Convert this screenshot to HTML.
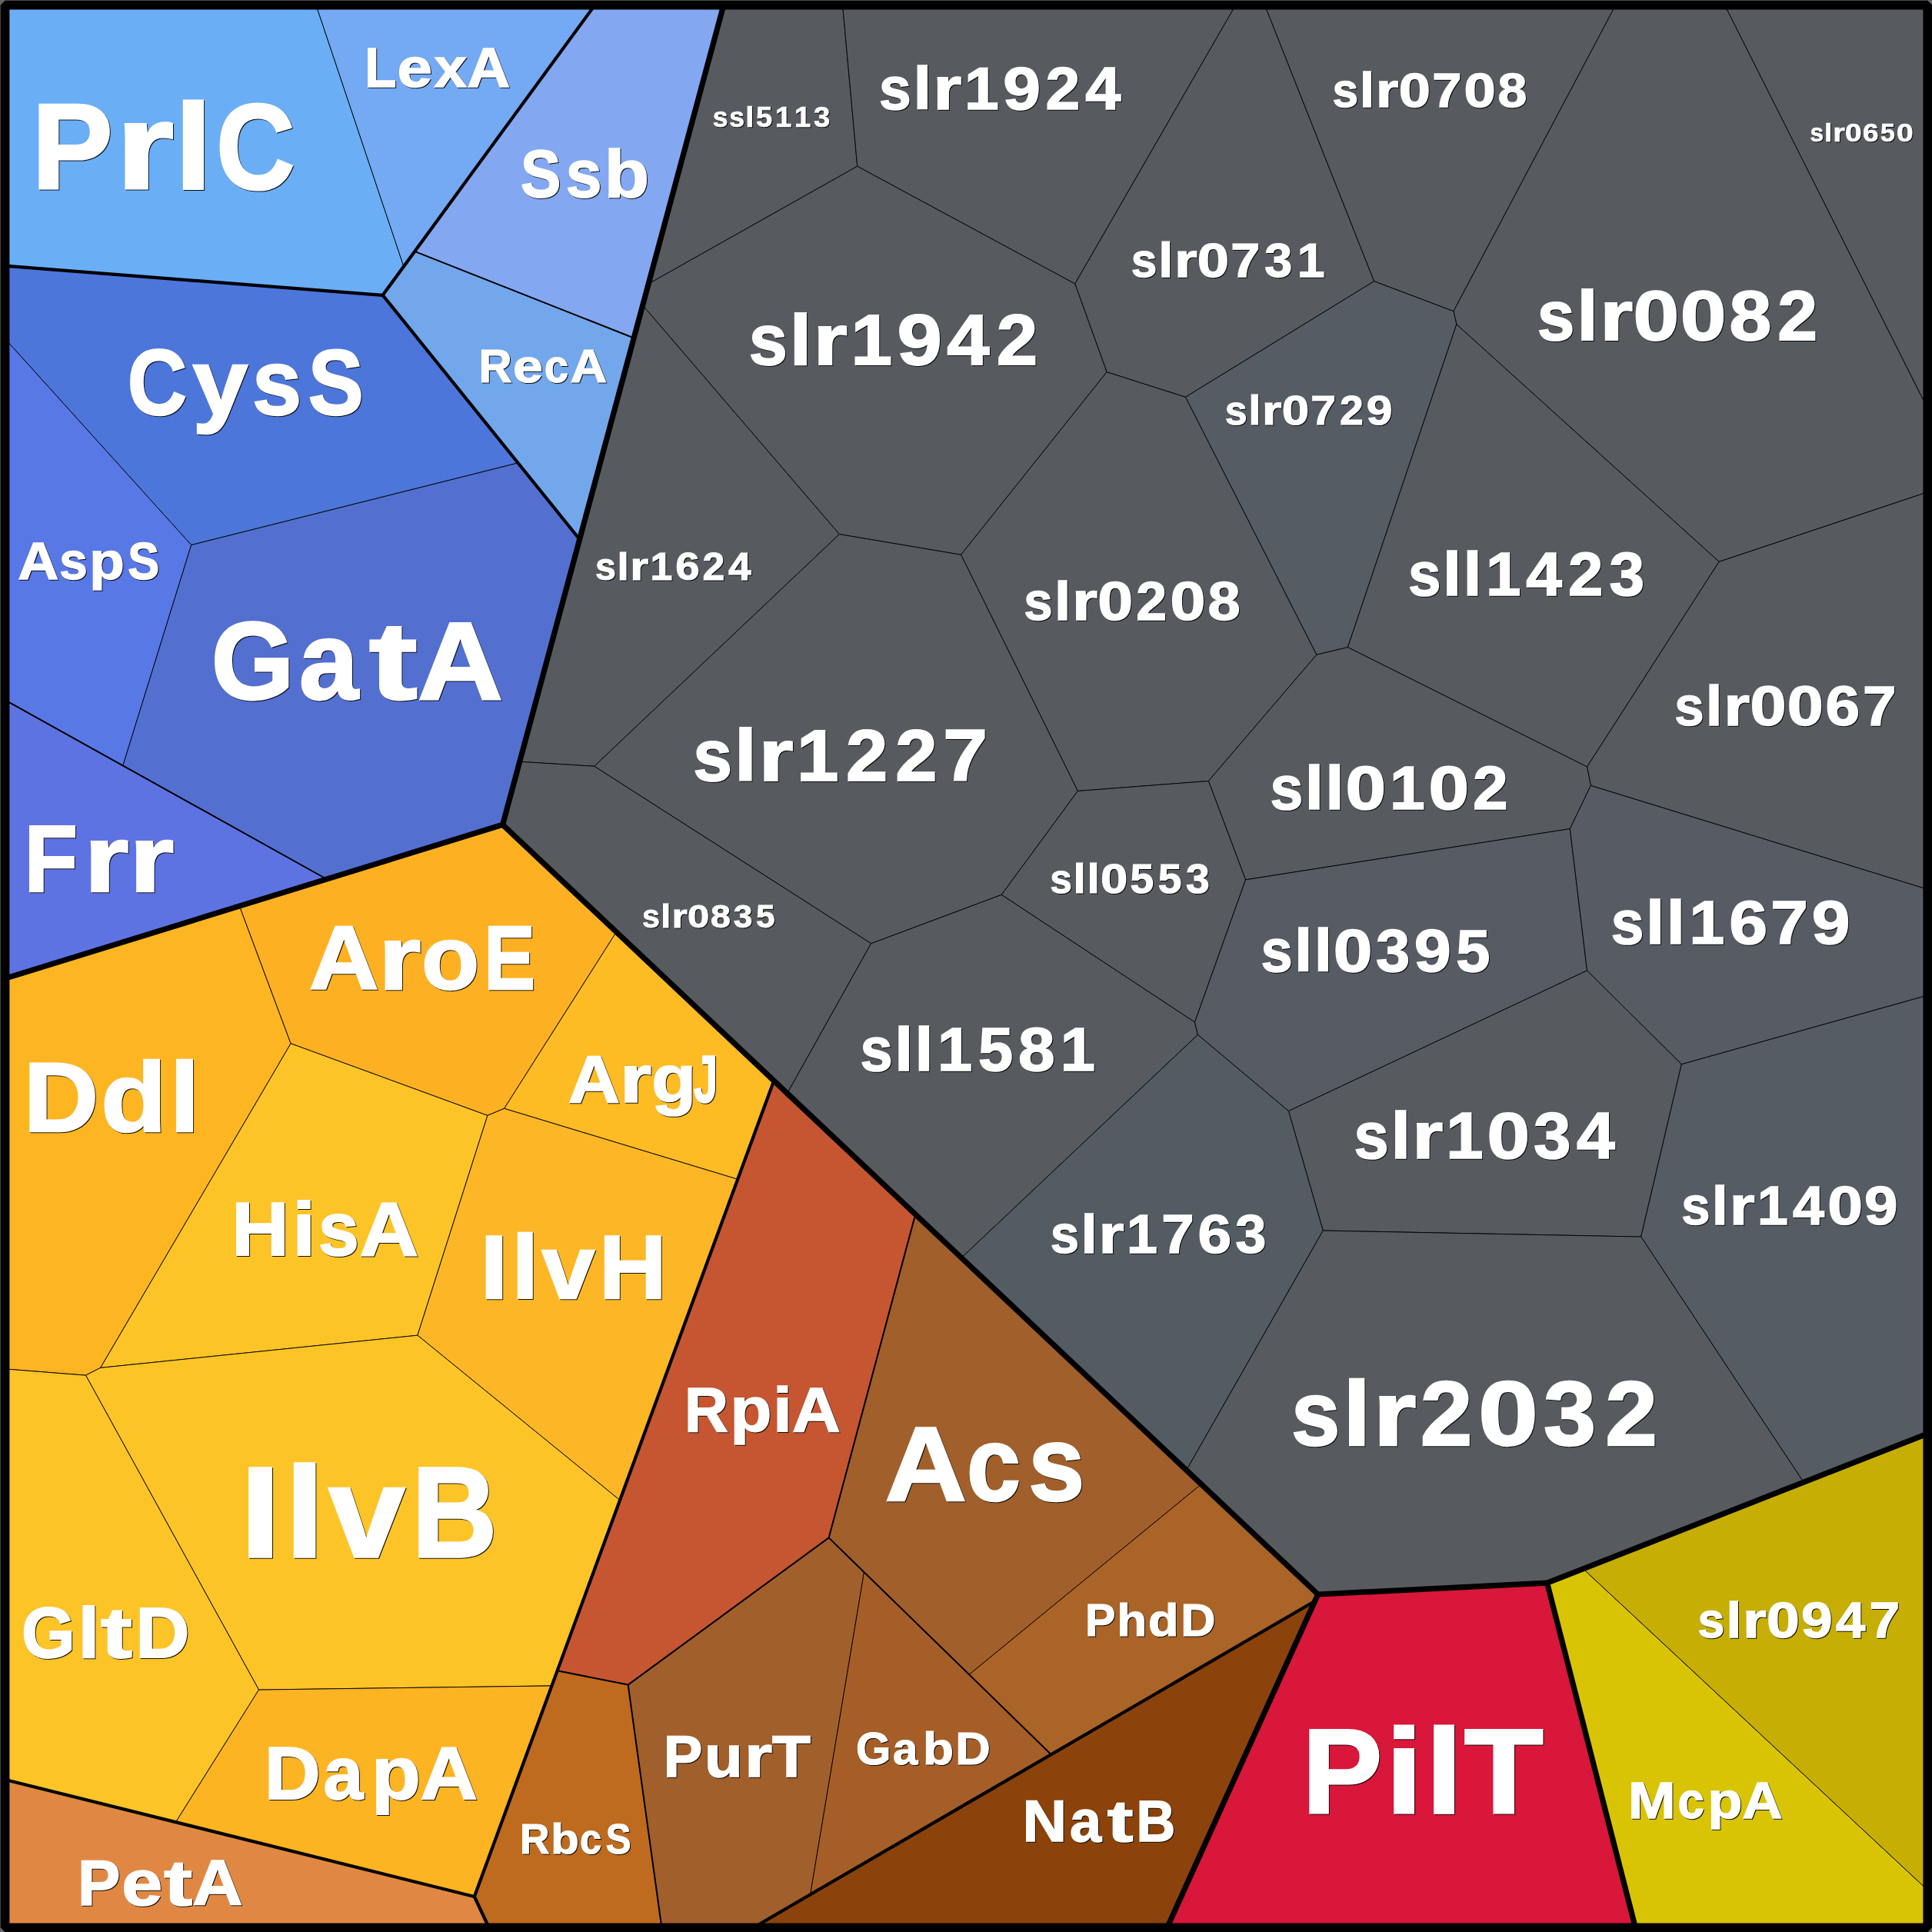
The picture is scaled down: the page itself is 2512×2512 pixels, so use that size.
<!DOCTYPE html>
<html><head><meta charset="utf-8"><title>Voronoi treemap</title>
<style>
html,body{margin:0;padding:0;background:#666;}
svg{display:block;}
text{font-family:"Liberation Sans",sans-serif;font-weight:bold;fill:#fff;stroke:#fff;stroke-linejoin:miter;stroke-miterlimit:2.5;}
.sh text{fill:#000;stroke:#000;opacity:.9;}
.c polygon{stroke:#000;stroke-width:0.9;stroke-linejoin:round;}
.l1,.l2,.l3{fill:none;stroke:#000;stroke-linecap:round;stroke-linejoin:round;}
.l1{stroke-width:7.2}.l2{stroke-width:4.2}.l3{stroke-width:2}
</style></head><body>
<svg width="2512" height="2512" viewBox="0 0 2512 2512">
<defs><filter id="noLcd" filterUnits="userSpaceOnUse" x="0" y="0" width="2512" height="2512" color-interpolation-filters="sRGB"><feOffset dx="0" dy="0"/></filter></defs>
<rect x="0" y="0" width="2512" height="2512" fill="#666"/>
<g class="c">
<polygon fill="#6aaef6" points="6.0,6.0 410.8,6.0 524.9,346.5 497.6,383.8 6.0,345.7"/>
<polygon fill="#74a9f3" points="410.8,6.0 773.9,6.0 524.9,346.5"/>
<polygon fill="#83a8f1" points="773.9,6.0 941.0,6.0 824.2,439.5 539.2,326.9"/>
<polygon fill="#72a7ec" points="539.2,326.9 824.2,439.5 753.6,701.2 497.6,383.8"/>
<polygon fill="#4d76db" points="6.0,345.7 497.6,383.8 673.6,601.9 248.7,708.6 6.0,439.9"/>
<polygon fill="#5878e6" points="6.0,439.9 248.7,708.6 159.8,995.5 6.0,909.8"/>
<polygon fill="#5370d1" points="248.7,708.6 673.6,601.9 753.6,701.2 653.6,1072.3 424.6,1143.0 159.8,995.5"/>
<polygon fill="#5e73e2" points="6.0,909.8 424.6,1143.0 6.0,1272.4"/>
<polygon fill="#fdb522" points="6.0,1272.4 311.4,1178.0 378.1,1356.8 130.7,1778.4 111.5,1788.2 6.0,1779.9"/>
<polygon fill="#fdb122" points="311.4,1178.0 653.6,1072.3 801.4,1211.8 655.6,1441.3 633.9,1450.4 378.1,1356.8"/>
<polygon fill="#fdbb24" points="801.4,1211.8 1006.2,1405.2 959.1,1533.3 655.6,1441.3"/>
<polygon fill="#fdc428" points="378.1,1356.8 633.9,1450.4 542.9,1736.2 130.7,1778.4"/>
<polygon fill="#fdb726" points="633.9,1450.4 655.6,1441.3 959.1,1533.3 806.0,1950.6 542.9,1736.2"/>
<polygon fill="#fdc428" points="130.7,1778.4 542.9,1736.2 806.0,1950.6 717.4,2191.9 336.5,2197.1 111.5,1788.2"/>
<polygon fill="#fdc428" points="6.0,1779.9 111.5,1788.2 336.5,2197.1 228.5,2369.2 6.0,2313.7"/>
<polygon fill="#fdb422" points="336.5,2197.1 717.4,2191.9 616.8,2466.0 228.5,2369.2"/>
<polygon fill="#e08843" points="6.0,2313.7 616.8,2466.0 635.6,2506.0 6.0,2506.0"/>
<polygon fill="#c55631" points="1006.2,1405.2 1190.2,1578.9 1077.6,1999.4 816.6,2190.6 724.6,2172.3"/>
<polygon fill="#a15f2b" points="1190.2,1578.9 1561.9,1929.8 1260.1,2177.3 1077.6,1999.4"/>
<polygon fill="#aa6427" points="1561.9,1929.8 1713.6,2073.0 1709.6,2081.8 1366.7,2281.2 1260.1,2177.3"/>
<polygon fill="#a15f2b" points="1077.6,1999.4 1123.5,2044.1 1053.6,2463.3 980.2,2506.0 860.3,2506.0 816.6,2190.6"/>
<polygon fill="#a55e27" points="1123.5,2044.1 1366.7,2281.2 1053.6,2463.3"/>
<polygon fill="#be6b1f" points="724.6,2172.3 816.6,2190.6 860.3,2506.0 635.6,2506.0 616.8,2466.0"/>
<polygon fill="#8b430b" points="980.2,2506.0 1709.6,2081.8 1517.7,2506.0"/>
<polygon fill="#d8173a" points="1713.6,2073.0 2011.6,2058.2 2126.3,2506.0 1517.7,2506.0"/>
<polygon fill="#d8c404" points="2011.6,2058.2 2058.5,2039.8 2506.0,2457.2 2506.0,2506.0 2126.3,2506.0"/>
<polygon fill="#c6ae05" points="2058.5,2039.8 2506.0,1864.1 2506.0,2457.2"/>
<polygon fill="#575b60" points="941.0,6.0 1095.5,6.0 1114.7,216.2 843.1,369.1"/>
<polygon fill="#575b60" points="1095.5,6.0 1606.9,6.0 1397.7,369.0 1114.7,216.2"/>
<polygon fill="#575b60" points="1606.9,6.0 1644.3,6.0 1786.6,365.7 1541.4,516.3 1439.0,483.7 1397.7,369.0"/>
<polygon fill="#575b60" points="1644.3,6.0 2101.0,6.0 1889.9,404.7 1786.6,365.7"/>
<polygon fill="#575b60" points="2101.0,6.0 2242.3,6.0 2506.0,530.5 2506.0,639.9 2235.1,730.4 1893.8,421.7 1889.9,404.7"/>
<polygon fill="#575b60" points="2242.3,6.0 2506.0,6.0 2506.0,530.5"/>
<polygon fill="#575b60" points="843.1,369.1 1114.7,216.2 1397.7,369.0 1439.0,483.7 1249.5,721.3 1091.3,694.6 835.6,396.9"/>
<polygon fill="#575b60" points="835.6,396.9 1091.3,694.6 772.7,996.3 675.7,990.3"/>
<polygon fill="#555c64" points="1541.4,516.3 1786.6,365.7 1889.9,404.7 1893.8,421.7 1752.4,841.6 1711.8,851.3"/>
<polygon fill="#575b60" points="1439.0,483.7 1541.4,516.3 1711.8,851.3 1571.3,1015.5 1401.3,1028.5 1249.5,721.3"/>
<polygon fill="#575b60" points="1893.8,421.7 2235.1,730.4 2063.5,997.0 1752.4,841.6"/>
<polygon fill="#575b60" points="2235.1,730.4 2506.0,639.9 2506.0,1156.3 2068.3,1021.4 2063.5,997.0"/>
<polygon fill="#575b60" points="1091.3,694.6 1249.5,721.3 1401.3,1028.5 1302.2,1163.4 1132.6,1226.8 772.7,996.3"/>
<polygon fill="#575b60" points="1711.8,851.3 1752.4,841.6 2063.5,997.0 2068.3,1021.4 2041.3,1077.6 1619.5,1143.9 1571.3,1015.5"/>
<polygon fill="#575b60" points="1401.3,1028.5 1571.3,1015.5 1619.5,1143.9 1553.5,1329.1 1302.2,1163.4"/>
<polygon fill="#575b60" points="675.7,990.3 772.7,996.3 1132.6,1226.8 1023.6,1421.6 653.6,1072.3"/>
<polygon fill="#575b60" points="1132.6,1226.8 1302.2,1163.4 1553.5,1329.1 1557.4,1345.4 1250.1,1635.4 1023.6,1421.6"/>
<polygon fill="#575b63" points="1619.5,1143.9 2041.3,1077.6 2063.5,1261.9 1675.4,1444.6 1557.4,1345.4 1553.5,1329.1"/>
<polygon fill="#575b63" points="2041.3,1077.6 2068.3,1021.4 2506.0,1156.3 2506.0,1294.2 2186.3,1383.8 2063.5,1261.9"/>
<polygon fill="#575b60" points="1675.4,1444.6 2063.5,1261.9 2186.3,1383.8 2133.7,1608.1 1720.2,1600.0"/>
<polygon fill="#545c63" points="1557.4,1345.4 1675.4,1444.6 1720.2,1600.0 1542.6,1911.6 1250.1,1635.4"/>
<polygon fill="#565c63" points="2186.3,1383.8 2506.0,1294.2 2506.0,1864.1 2345.1,1927.3 2133.7,1608.1"/>
<polygon fill="#575b60" points="1720.2,1600.0 2133.7,1608.1 2345.1,1927.3 2011.6,2058.2 1713.6,2073.0 1542.6,1911.6"/>
</g>
<g class="l3">
<polyline points="539.2,326.9 824.2,439.5"/>
<polyline points="6.0,909.8 424.6,1143.0"/>
<polyline points="1190.2,1578.9 1077.6,1999.4 816.6,2190.6 724.6,2172.3"/>
<polyline points="816.6,2190.6 860.3,2506.0"/>
<polyline points="1077.6,1999.4 1366.7,2281.2"/>
</g>
<g class="l2">
<polyline points="6.0,345.7 497.6,383.8 773.9,6.0"/>
<polyline points="497.6,383.8 753.6,701.2"/>
<polyline points="1006.2,1405.2 616.8,2466.0 6.0,2313.7"/>
<polyline points="616.8,2466.0 635.6,2506.0"/>
<polyline points="980.2,2506.0 1709.6,2081.8"/>
</g>
<g class="l1">
<polyline points="941.0,6.0 653.6,1072.3 6.0,1272.4"/>
<polyline points="653.6,1072.3 1713.6,2073.0 1517.7,2506.0"/>
<polyline points="1713.6,2073.0 2011.6,2058.2 2506.0,1864.1"/>
<polyline points="2011.6,2058.2 2126.3,2506.0"/>
</g>
<rect x="6.55" y="6.55" width="2499.7" height="2499.7" fill="none" stroke="#000" stroke-width="11.7" stroke-linejoin="bevel"/>
<g class="sh" filter="url(#noLcd)">
<text y="245.8" font-size="158.6" stroke-width="3.17"><tspan x="42.4" textLength="105.2" lengthAdjust="spacingAndGlyphs">P</tspan><tspan x="151.9" textLength="75.0" lengthAdjust="spacingAndGlyphs">r</tspan><tspan x="228.5" textLength="48.1" lengthAdjust="spacingAndGlyphs">l</tspan><tspan x="282.3" textLength="102.0" lengthAdjust="spacingAndGlyphs">C</tspan></text>
<text y="114.1" font-size="71.8" stroke-width="1.44"><tspan x="475.2" textLength="41.3" lengthAdjust="spacingAndGlyphs">L</tspan><tspan x="517.6" textLength="45.5" lengthAdjust="spacingAndGlyphs">e</tspan><tspan x="565.6" textLength="42.5" lengthAdjust="spacingAndGlyphs">x</tspan><tspan x="608.5" textLength="55.8" lengthAdjust="spacingAndGlyphs">A</tspan></text>
<text y="256.9" font-size="87.4" stroke-width="1.75"><tspan x="678.0" textLength="52.4" lengthAdjust="spacingAndGlyphs">S</tspan><tspan x="736.8" textLength="46.8" lengthAdjust="spacingAndGlyphs">s</tspan><tspan x="786.7" textLength="58.3" lengthAdjust="spacingAndGlyphs">b</tspan></text>
<text y="497.8" font-size="61.4" stroke-width="1.23"><tspan x="623.6" textLength="43.2" lengthAdjust="spacingAndGlyphs">R</tspan><tspan x="667.9" textLength="38.9" lengthAdjust="spacingAndGlyphs">e</tspan><tspan x="708.8" textLength="31.4" lengthAdjust="spacingAndGlyphs">c</tspan><tspan x="742.4" textLength="47.7" lengthAdjust="spacingAndGlyphs">A</tspan></text>
<text y="539.5" font-size="120.1" stroke-width="2.40"><tspan x="166.8" textLength="77.3" lengthAdjust="spacingAndGlyphs">C</tspan><tspan x="251.4" textLength="71.8" lengthAdjust="spacingAndGlyphs">y</tspan><tspan x="329.0" textLength="64.3" lengthAdjust="spacingAndGlyphs">s</tspan><tspan x="401.8" textLength="72.0" lengthAdjust="spacingAndGlyphs">S</tspan></text>
<text y="753.5" font-size="68.4" stroke-width="1.37"><tspan x="24.3" textLength="53.2" lengthAdjust="spacingAndGlyphs">A</tspan><tspan x="78.3" textLength="36.6" lengthAdjust="spacingAndGlyphs">s</tspan><tspan x="117.3" textLength="45.6" lengthAdjust="spacingAndGlyphs">p</tspan><tspan x="167.2" textLength="41.0" lengthAdjust="spacingAndGlyphs">S</tspan></text>
<text y="910.0" font-size="142.3" stroke-width="2.85"><tspan x="275.8" textLength="107.8" lengthAdjust="spacingAndGlyphs">G</tspan><tspan x="390.0" textLength="76.8" lengthAdjust="spacingAndGlyphs">a</tspan><tspan x="480.9" textLength="62.8" lengthAdjust="spacingAndGlyphs">t</tspan><tspan x="544.3" textLength="110.6" lengthAdjust="spacingAndGlyphs">A</tspan></text>
<text y="1159.9" font-size="122.3" stroke-width="2.45"><tspan x="32.5" textLength="69.6" lengthAdjust="spacingAndGlyphs">F</tspan><tspan x="110.6" textLength="57.9" lengthAdjust="spacingAndGlyphs">r</tspan><tspan x="169.2" textLength="57.9" lengthAdjust="spacingAndGlyphs">r</tspan></text>
<text y="165.7" font-size="37.1" stroke-width="0.74"><tspan x="927.8" textLength="19.8" lengthAdjust="spacingAndGlyphs">s</tspan><tspan x="949.2" textLength="19.8" lengthAdjust="spacingAndGlyphs">s</tspan><tspan x="970.2" textLength="11.2" lengthAdjust="spacingAndGlyphs">l</tspan><tspan x="984.0" textLength="21.2" lengthAdjust="spacingAndGlyphs">5</tspan><tspan x="1009.1" textLength="21.2" lengthAdjust="spacingAndGlyphs">1</tspan><tspan x="1034.1" textLength="21.2" lengthAdjust="spacingAndGlyphs">1</tspan><tspan x="1059.0" textLength="21.3" lengthAdjust="spacingAndGlyphs">3</tspan></text>
<text y="143.2" font-size="78.2" stroke-width="1.56"><tspan x="1144.1" textLength="41.8" lengthAdjust="spacingAndGlyphs">s</tspan><tspan x="1188.5" textLength="23.7" lengthAdjust="spacingAndGlyphs">l</tspan><tspan x="1214.2" textLength="37.0" lengthAdjust="spacingAndGlyphs">r</tspan><tspan x="1255.0" textLength="44.8" lengthAdjust="spacingAndGlyphs">1</tspan><tspan x="1305.3" textLength="48.8" lengthAdjust="spacingAndGlyphs">9</tspan><tspan x="1360.4" textLength="44.7" lengthAdjust="spacingAndGlyphs">2</tspan><tspan x="1412.2" textLength="46.1" lengthAdjust="spacingAndGlyphs">4</tspan></text>
<text y="140.2" font-size="62.8" stroke-width="1.26"><tspan x="1733.5" textLength="33.6" lengthAdjust="spacingAndGlyphs">s</tspan><tspan x="1769.1" textLength="19.0" lengthAdjust="spacingAndGlyphs">l</tspan><tspan x="1789.7" textLength="29.7" lengthAdjust="spacingAndGlyphs">r</tspan><tspan x="1819.7" textLength="41.3" lengthAdjust="spacingAndGlyphs">0</tspan><tspan x="1863.3" textLength="38.2" lengthAdjust="spacingAndGlyphs">7</tspan><tspan x="1904.5" textLength="41.3" lengthAdjust="spacingAndGlyphs">0</tspan><tspan x="1948.5" textLength="37.9" lengthAdjust="spacingAndGlyphs">8</tspan></text>
<text y="185.4" font-size="33.0" stroke-width="0.66"><tspan x="2354.6" textLength="17.7" lengthAdjust="spacingAndGlyphs">s</tspan><tspan x="2373.3" textLength="10.0" lengthAdjust="spacingAndGlyphs">l</tspan><tspan x="2384.2" textLength="15.6" lengthAdjust="spacingAndGlyphs">r</tspan><tspan x="2400.0" textLength="21.7" lengthAdjust="spacingAndGlyphs">0</tspan><tspan x="2422.9" textLength="20.6" lengthAdjust="spacingAndGlyphs">6</tspan><tspan x="2446.1" textLength="18.9" lengthAdjust="spacingAndGlyphs">5</tspan><tspan x="2466.9" textLength="21.7" lengthAdjust="spacingAndGlyphs">0</tspan></text>
<text y="360.6" font-size="62.7" stroke-width="1.25"><tspan x="1471.7" textLength="33.6" lengthAdjust="spacingAndGlyphs">s</tspan><tspan x="1507.3" textLength="19.0" lengthAdjust="spacingAndGlyphs">l</tspan><tspan x="1527.9" textLength="29.7" lengthAdjust="spacingAndGlyphs">r</tspan><tspan x="1557.8" textLength="41.3" lengthAdjust="spacingAndGlyphs">0</tspan><tspan x="1601.3" textLength="38.2" lengthAdjust="spacingAndGlyphs">7</tspan><tspan x="1645.2" textLength="36.0" lengthAdjust="spacingAndGlyphs">3</tspan><tspan x="1687.7" textLength="35.9" lengthAdjust="spacingAndGlyphs">1</tspan></text>
<text y="442.9" font-size="90.8" stroke-width="1.82"><tspan x="1999.8" textLength="48.6" lengthAdjust="spacingAndGlyphs">s</tspan><tspan x="2051.3" textLength="27.5" lengthAdjust="spacingAndGlyphs">l</tspan><tspan x="2081.2" textLength="42.9" lengthAdjust="spacingAndGlyphs">r</tspan><tspan x="2124.5" textLength="59.7" lengthAdjust="spacingAndGlyphs">0</tspan><tspan x="2185.8" textLength="59.7" lengthAdjust="spacingAndGlyphs">0</tspan><tspan x="2249.4" textLength="54.8" lengthAdjust="spacingAndGlyphs">8</tspan><tspan x="2312.3" textLength="51.9" lengthAdjust="spacingAndGlyphs">2</tspan></text>
<text y="474.7" font-size="93.6" stroke-width="1.87"><tspan x="974.7" textLength="50.1" lengthAdjust="spacingAndGlyphs">s</tspan><tspan x="1027.7" textLength="28.4" lengthAdjust="spacingAndGlyphs">l</tspan><tspan x="1058.5" textLength="44.3" lengthAdjust="spacingAndGlyphs">r</tspan><tspan x="1107.4" textLength="53.6" lengthAdjust="spacingAndGlyphs">1</tspan><tspan x="1167.5" textLength="58.4" lengthAdjust="spacingAndGlyphs">9</tspan><tspan x="1232.3" textLength="55.2" lengthAdjust="spacingAndGlyphs">4</tspan><tspan x="1296.8" textLength="53.5" lengthAdjust="spacingAndGlyphs">2</tspan></text>
<text y="553.2" font-size="53.9" stroke-width="1.08"><tspan x="1593.7" textLength="28.9" lengthAdjust="spacingAndGlyphs">s</tspan><tspan x="1624.3" textLength="16.4" lengthAdjust="spacingAndGlyphs">l</tspan><tspan x="1642.0" textLength="25.5" lengthAdjust="spacingAndGlyphs">r</tspan><tspan x="1667.8" textLength="35.5" lengthAdjust="spacingAndGlyphs">0</tspan><tspan x="1705.2" textLength="32.8" lengthAdjust="spacingAndGlyphs">7</tspan><tspan x="1742.9" textLength="30.8" lengthAdjust="spacingAndGlyphs">2</tspan><tspan x="1777.8" textLength="33.7" lengthAdjust="spacingAndGlyphs">9</tspan></text>
<text y="755.4" font-size="50.4" stroke-width="1.01"><tspan x="775.0" textLength="27.0" lengthAdjust="spacingAndGlyphs">s</tspan><tspan x="803.6" textLength="15.3" lengthAdjust="spacingAndGlyphs">l</tspan><tspan x="820.2" textLength="23.9" lengthAdjust="spacingAndGlyphs">r</tspan><tspan x="846.5" textLength="28.9" lengthAdjust="spacingAndGlyphs">1</tspan><tspan x="879.3" textLength="31.5" lengthAdjust="spacingAndGlyphs">6</tspan><tspan x="914.5" textLength="28.8" lengthAdjust="spacingAndGlyphs">2</tspan><tspan x="947.9" textLength="29.7" lengthAdjust="spacingAndGlyphs">4</tspan></text>
<text y="806.5" font-size="69.8" stroke-width="1.40"><tspan x="1332.3" textLength="37.4" lengthAdjust="spacingAndGlyphs">s</tspan><tspan x="1371.9" textLength="21.2" lengthAdjust="spacingAndGlyphs">l</tspan><tspan x="1394.9" textLength="33.0" lengthAdjust="spacingAndGlyphs">r</tspan><tspan x="1428.2" textLength="45.9" lengthAdjust="spacingAndGlyphs">0</tspan><tspan x="1478.3" textLength="39.9" lengthAdjust="spacingAndGlyphs">2</tspan><tspan x="1522.5" textLength="45.9" lengthAdjust="spacingAndGlyphs">0</tspan><tspan x="1571.5" textLength="42.2" lengthAdjust="spacingAndGlyphs">8</tspan></text>
<text y="774.5" font-size="79.3" stroke-width="1.59"><tspan x="1832.1" textLength="42.5" lengthAdjust="spacingAndGlyphs">s</tspan><tspan x="1877.1" textLength="24.1" lengthAdjust="spacingAndGlyphs">l</tspan><tspan x="1903.5" textLength="24.1" lengthAdjust="spacingAndGlyphs">l</tspan><tspan x="1933.0" textLength="45.5" lengthAdjust="spacingAndGlyphs">1</tspan><tspan x="1985.3" textLength="46.7" lengthAdjust="spacingAndGlyphs">4</tspan><tspan x="2040.0" textLength="45.3" lengthAdjust="spacingAndGlyphs">2</tspan><tspan x="2093.6" textLength="45.6" lengthAdjust="spacingAndGlyphs">3</tspan></text>
<text y="944.3" font-size="71.6" stroke-width="1.43"><tspan x="2178.2" textLength="38.3" lengthAdjust="spacingAndGlyphs">s</tspan><tspan x="2218.8" textLength="21.7" lengthAdjust="spacingAndGlyphs">l</tspan><tspan x="2242.3" textLength="33.9" lengthAdjust="spacingAndGlyphs">r</tspan><tspan x="2276.5" textLength="47.1" lengthAdjust="spacingAndGlyphs">0</tspan><tspan x="2324.8" textLength="47.1" lengthAdjust="spacingAndGlyphs">0</tspan><tspan x="2374.6" textLength="44.7" lengthAdjust="spacingAndGlyphs">6</tspan><tspan x="2422.9" textLength="43.6" lengthAdjust="spacingAndGlyphs">7</tspan></text>
<text y="1015.7" font-size="95.0" stroke-width="1.90"><tspan x="902.2" textLength="50.9" lengthAdjust="spacingAndGlyphs">s</tspan><tspan x="956.1" textLength="28.8" lengthAdjust="spacingAndGlyphs">l</tspan><tspan x="987.4" textLength="45.0" lengthAdjust="spacingAndGlyphs">r</tspan><tspan x="1037.0" textLength="54.5" lengthAdjust="spacingAndGlyphs">1</tspan><tspan x="1100.9" textLength="54.3" lengthAdjust="spacingAndGlyphs">2</tspan><tspan x="1165.2" textLength="54.3" lengthAdjust="spacingAndGlyphs">2</tspan><tspan x="1227.2" textLength="57.8" lengthAdjust="spacingAndGlyphs">7</tspan></text>
<text y="1052.5" font-size="80.0" stroke-width="1.60"><tspan x="1652.4" textLength="42.8" lengthAdjust="spacingAndGlyphs">s</tspan><tspan x="1697.7" textLength="24.2" lengthAdjust="spacingAndGlyphs">l</tspan><tspan x="1724.3" textLength="24.2" lengthAdjust="spacingAndGlyphs">l</tspan><tspan x="1750.5" textLength="52.6" lengthAdjust="spacingAndGlyphs">0</tspan><tspan x="1808.1" textLength="45.8" lengthAdjust="spacingAndGlyphs">1</tspan><tspan x="1858.6" textLength="52.6" lengthAdjust="spacingAndGlyphs">0</tspan><tspan x="1915.9" textLength="45.7" lengthAdjust="spacingAndGlyphs">2</tspan></text>
<text y="1161.7" font-size="53.6" stroke-width="1.07"><tspan x="1366.2" textLength="28.7" lengthAdjust="spacingAndGlyphs">s</tspan><tspan x="1396.6" textLength="16.3" lengthAdjust="spacingAndGlyphs">l</tspan><tspan x="1414.5" textLength="16.3" lengthAdjust="spacingAndGlyphs">l</tspan><tspan x="1432.0" textLength="35.3" lengthAdjust="spacingAndGlyphs">0</tspan><tspan x="1470.6" textLength="30.7" lengthAdjust="spacingAndGlyphs">5</tspan><tspan x="1506.8" textLength="30.7" lengthAdjust="spacingAndGlyphs">5</tspan><tspan x="1543.0" textLength="30.8" lengthAdjust="spacingAndGlyphs">3</tspan></text>
<text y="1206.6" font-size="42.9" stroke-width="0.86"><tspan x="836.0" textLength="23.0" lengthAdjust="spacingAndGlyphs">s</tspan><tspan x="860.3" textLength="13.0" lengthAdjust="spacingAndGlyphs">l</tspan><tspan x="874.5" textLength="20.3" lengthAdjust="spacingAndGlyphs">r</tspan><tspan x="894.9" textLength="28.3" lengthAdjust="spacingAndGlyphs">0</tspan><tspan x="925.0" textLength="25.9" lengthAdjust="spacingAndGlyphs">8</tspan><tspan x="954.8" textLength="24.7" lengthAdjust="spacingAndGlyphs">3</tspan><tspan x="983.9" textLength="24.6" lengthAdjust="spacingAndGlyphs">5</tspan></text>
<text y="1264.0" font-size="77.0" stroke-width="1.54"><tspan x="1640.4" textLength="41.2" lengthAdjust="spacingAndGlyphs">s</tspan><tspan x="1684.0" textLength="23.4" lengthAdjust="spacingAndGlyphs">l</tspan><tspan x="1709.7" textLength="23.4" lengthAdjust="spacingAndGlyphs">l</tspan><tspan x="1734.8" textLength="50.7" lengthAdjust="spacingAndGlyphs">0</tspan><tspan x="1790.1" textLength="44.2" lengthAdjust="spacingAndGlyphs">3</tspan><tspan x="1839.8" textLength="48.0" lengthAdjust="spacingAndGlyphs">9</tspan><tspan x="1894.3" textLength="44.2" lengthAdjust="spacingAndGlyphs">5</tspan></text>
<text y="1227.7" font-size="79.9" stroke-width="1.60"><tspan x="2095.8" textLength="42.7" lengthAdjust="spacingAndGlyphs">s</tspan><tspan x="2141.1" textLength="24.2" lengthAdjust="spacingAndGlyphs">l</tspan><tspan x="2167.7" textLength="24.2" lengthAdjust="spacingAndGlyphs">l</tspan><tspan x="2197.4" textLength="45.8" lengthAdjust="spacingAndGlyphs">1</tspan><tspan x="2249.3" textLength="49.9" lengthAdjust="spacingAndGlyphs">6</tspan><tspan x="2303.2" textLength="48.6" lengthAdjust="spacingAndGlyphs">7</tspan><tspan x="2356.7" textLength="49.8" lengthAdjust="spacingAndGlyphs">9</tspan></text>
<text y="1392.7" font-size="78.8" stroke-width="1.58"><tspan x="1119.6" textLength="42.2" lengthAdjust="spacingAndGlyphs">s</tspan><tspan x="1164.3" textLength="23.9" lengthAdjust="spacingAndGlyphs">l</tspan><tspan x="1190.6" textLength="23.9" lengthAdjust="spacingAndGlyphs">l</tspan><tspan x="1219.9" textLength="45.2" lengthAdjust="spacingAndGlyphs">1</tspan><tspan x="1273.1" textLength="45.2" lengthAdjust="spacingAndGlyphs">5</tspan><tspan x="1324.9" textLength="47.6" lengthAdjust="spacingAndGlyphs">8</tspan><tspan x="1379.7" textLength="45.2" lengthAdjust="spacingAndGlyphs">1</tspan></text>
<text y="1506.5" font-size="84.5" stroke-width="1.69"><tspan x="1761.5" textLength="45.2" lengthAdjust="spacingAndGlyphs">s</tspan><tspan x="1809.4" textLength="25.6" lengthAdjust="spacingAndGlyphs">l</tspan><tspan x="1837.2" textLength="40.0" lengthAdjust="spacingAndGlyphs">r</tspan><tspan x="1881.3" textLength="48.4" lengthAdjust="spacingAndGlyphs">1</tspan><tspan x="1934.5" textLength="55.6" lengthAdjust="spacingAndGlyphs">0</tspan><tspan x="1995.1" textLength="48.5" lengthAdjust="spacingAndGlyphs">3</tspan><tspan x="2051.1" textLength="49.8" lengthAdjust="spacingAndGlyphs">4</tspan></text>
<text y="1630.2" font-size="69.9" stroke-width="1.40"><tspan x="1366.8" textLength="37.4" lengthAdjust="spacingAndGlyphs">s</tspan><tspan x="1406.4" textLength="21.2" lengthAdjust="spacingAndGlyphs">l</tspan><tspan x="1429.4" textLength="33.0" lengthAdjust="spacingAndGlyphs">r</tspan><tspan x="1465.9" textLength="40.0" lengthAdjust="spacingAndGlyphs">1</tspan><tspan x="1511.2" textLength="42.5" lengthAdjust="spacingAndGlyphs">7</tspan><tspan x="1558.5" textLength="43.7" lengthAdjust="spacingAndGlyphs">6</tspan><tspan x="1607.3" textLength="40.1" lengthAdjust="spacingAndGlyphs">3</tspan></text>
<text y="1592.8" font-size="69.7" stroke-width="1.39"><tspan x="2187.3" textLength="37.3" lengthAdjust="spacingAndGlyphs">s</tspan><tspan x="2226.8" textLength="21.1" lengthAdjust="spacingAndGlyphs">l</tspan><tspan x="2249.8" textLength="33.0" lengthAdjust="spacingAndGlyphs">r</tspan><tspan x="2286.1" textLength="39.9" lengthAdjust="spacingAndGlyphs">1</tspan><tspan x="2332.0" textLength="41.1" lengthAdjust="spacingAndGlyphs">4</tspan><tspan x="2377.2" textLength="45.8" lengthAdjust="spacingAndGlyphs">0</tspan><tspan x="2425.0" textLength="43.5" lengthAdjust="spacingAndGlyphs">9</tspan></text>
<text y="1879.9" font-size="118.6" stroke-width="2.37"><tspan x="1680.1" textLength="63.4" lengthAdjust="spacingAndGlyphs">s</tspan><tspan x="1747.3" textLength="36.0" lengthAdjust="spacingAndGlyphs">l</tspan><tspan x="1786.3" textLength="56.1" lengthAdjust="spacingAndGlyphs">r</tspan><tspan x="1847.8" textLength="67.7" lengthAdjust="spacingAndGlyphs">2</tspan><tspan x="1923.0" textLength="78.0" lengthAdjust="spacingAndGlyphs">0</tspan><tspan x="2008.0" textLength="68.1" lengthAdjust="spacingAndGlyphs">3</tspan><tspan x="2088.2" textLength="67.7" lengthAdjust="spacingAndGlyphs">2</tspan></text>
<text y="1286.6" font-size="116.4" stroke-width="2.33"><tspan x="403.1" textLength="90.5" lengthAdjust="spacingAndGlyphs">A</tspan><tspan x="493.3" textLength="55.0" lengthAdjust="spacingAndGlyphs">r</tspan><tspan x="549.0" textLength="75.2" lengthAdjust="spacingAndGlyphs">o</tspan><tspan x="630.2" textLength="66.8" lengthAdjust="spacingAndGlyphs">E</tspan></text>
<text y="1471.9" font-size="127.8" stroke-width="2.56"><tspan x="31.7" textLength="97.3" lengthAdjust="spacingAndGlyphs">D</tspan><tspan x="132.2" textLength="85.2" lengthAdjust="spacingAndGlyphs">d</tspan><tspan x="221.8" textLength="38.8" lengthAdjust="spacingAndGlyphs">l</tspan></text>
<text y="1632.5" font-size="98.7" stroke-width="1.97"><tspan x="302.3" textLength="74.5" lengthAdjust="spacingAndGlyphs">H</tspan><tspan x="381.2" textLength="29.9" lengthAdjust="spacingAndGlyphs">i</tspan><tspan x="415.1" textLength="52.8" lengthAdjust="spacingAndGlyphs">s</tspan><tspan x="468.4" textLength="76.7" lengthAdjust="spacingAndGlyphs">A</tspan></text>
<text y="1434.3" font-size="86.7" stroke-width="1.73"><tspan x="739.7" textLength="67.4" lengthAdjust="spacingAndGlyphs">A</tspan><tspan x="806.9" textLength="41.0" lengthAdjust="spacingAndGlyphs">r</tspan><tspan x="848.2" textLength="57.9" lengthAdjust="spacingAndGlyphs">g</tspan><tspan x="903.0" textLength="31.2" lengthAdjust="spacingAndGlyphs">J</tspan></text>
<text y="1688.8" font-size="116.0" stroke-width="2.32"><tspan x="625.3" textLength="36.4" lengthAdjust="spacingAndGlyphs">I</tspan><tspan x="666.3" textLength="35.2" lengthAdjust="spacingAndGlyphs">l</tspan><tspan x="705.5" textLength="68.8" lengthAdjust="spacingAndGlyphs">v</tspan><tspan x="779.9" textLength="87.6" lengthAdjust="spacingAndGlyphs">H</tspan></text>
<text y="2025.2" font-size="166.3" stroke-width="3.33"><tspan x="313.4" textLength="52.2" lengthAdjust="spacingAndGlyphs">I</tspan><tspan x="372.1" textLength="50.4" lengthAdjust="spacingAndGlyphs">l</tspan><tspan x="428.4" textLength="98.6" lengthAdjust="spacingAndGlyphs">v</tspan><tspan x="536.5" textLength="110.8" lengthAdjust="spacingAndGlyphs">B</tspan></text>
<text y="2155.6" font-size="92.2" stroke-width="1.84"><tspan x="29.1" textLength="69.9" lengthAdjust="spacingAndGlyphs">G</tspan><tspan x="102.4" textLength="28.0" lengthAdjust="spacingAndGlyphs">l</tspan><tspan x="132.3" textLength="40.7" lengthAdjust="spacingAndGlyphs">t</tspan><tspan x="177.2" textLength="70.2" lengthAdjust="spacingAndGlyphs">D</tspan></text>
<text y="2339.8" font-size="95.9" stroke-width="1.92"><tspan x="344.7" textLength="73.0" lengthAdjust="spacingAndGlyphs">D</tspan><tspan x="421.5" textLength="51.7" lengthAdjust="spacingAndGlyphs">a</tspan><tspan x="483.9" textLength="63.9" lengthAdjust="spacingAndGlyphs">p</tspan><tspan x="547.5" textLength="74.5" lengthAdjust="spacingAndGlyphs">A</tspan></text>
<text y="2478.4" font-size="83.6" stroke-width="1.67"><tspan x="101.9" textLength="55.5" lengthAdjust="spacingAndGlyphs">P</tspan><tspan x="159.3" textLength="53.0" lengthAdjust="spacingAndGlyphs">e</tspan><tspan x="214.3" textLength="36.9" lengthAdjust="spacingAndGlyphs">t</tspan><tspan x="251.5" textLength="65.0" lengthAdjust="spacingAndGlyphs">A</tspan></text>
<text y="1861.5" font-size="80.8" stroke-width="1.62"><tspan x="891.1" textLength="56.9" lengthAdjust="spacingAndGlyphs">R</tspan><tspan x="950.4" textLength="53.9" lengthAdjust="spacingAndGlyphs">p</tspan><tspan x="1006.3" textLength="24.5" lengthAdjust="spacingAndGlyphs">i</tspan><tspan x="1031.0" textLength="62.8" lengthAdjust="spacingAndGlyphs">A</tspan></text>
<text y="1951.9" font-size="136.5" stroke-width="2.73"><tspan x="1151.7" textLength="106.1" lengthAdjust="spacingAndGlyphs">A</tspan><tspan x="1258.1" textLength="69.9" lengthAdjust="spacingAndGlyphs">c</tspan><tspan x="1338.2" textLength="73.1" lengthAdjust="spacingAndGlyphs">s</tspan></text>
<text y="2128.2" font-size="59.4" stroke-width="1.19"><tspan x="1411.9" textLength="39.4" lengthAdjust="spacingAndGlyphs">P</tspan><tspan x="1453.3" textLength="38.9" lengthAdjust="spacingAndGlyphs">h</tspan><tspan x="1493.9" textLength="39.6" lengthAdjust="spacingAndGlyphs">d</tspan><tspan x="1536.3" textLength="45.2" lengthAdjust="spacingAndGlyphs">D</tspan></text>
<text y="2310.7" font-size="76.3" stroke-width="1.53"><tspan x="863.7" textLength="50.6" lengthAdjust="spacingAndGlyphs">P</tspan><tspan x="917.0" textLength="49.6" lengthAdjust="spacingAndGlyphs">u</tspan><tspan x="969.1" textLength="36.1" lengthAdjust="spacingAndGlyphs">r</tspan><tspan x="1005.0" textLength="50.0" lengthAdjust="spacingAndGlyphs">T</tspan></text>
<text y="2294.7" font-size="60.0" stroke-width="1.20"><tspan x="1113.9" textLength="45.4" lengthAdjust="spacingAndGlyphs">G</tspan><tspan x="1162.0" textLength="32.4" lengthAdjust="spacingAndGlyphs">a</tspan><tspan x="1201.1" textLength="40.0" lengthAdjust="spacingAndGlyphs">b</tspan><tspan x="1243.3" textLength="45.6" lengthAdjust="spacingAndGlyphs">D</tspan></text>
<text y="2411.2" font-size="54.8" stroke-width="1.10"><tspan x="677.0" textLength="38.6" lengthAdjust="spacingAndGlyphs">R</tspan><tspan x="717.2" textLength="36.5" lengthAdjust="spacingAndGlyphs">b</tspan><tspan x="755.1" textLength="28.1" lengthAdjust="spacingAndGlyphs">c</tspan><tspan x="788.7" textLength="32.9" lengthAdjust="spacingAndGlyphs">S</tspan></text>
<text y="2395.3" font-size="76.3" stroke-width="1.53"><tspan x="1330.4" textLength="57.6" lengthAdjust="spacingAndGlyphs">N</tspan><tspan x="1392.0" textLength="41.1" lengthAdjust="spacingAndGlyphs">a</tspan><tspan x="1440.7" textLength="33.7" lengthAdjust="spacingAndGlyphs">t</tspan><tspan x="1478.4" textLength="50.8" lengthAdjust="spacingAndGlyphs">B</tspan></text>
<text y="2358.2" font-size="156.2" stroke-width="3.12"><tspan x="1694.6" textLength="103.6" lengthAdjust="spacingAndGlyphs">P</tspan><tspan x="1803.1" textLength="47.4" lengthAdjust="spacingAndGlyphs">i</tspan><tspan x="1855.1" textLength="47.4" lengthAdjust="spacingAndGlyphs">l</tspan><tspan x="1905.1" textLength="102.5" lengthAdjust="spacingAndGlyphs">T</tspan></text>
<text y="2365.4" font-size="67.4" stroke-width="1.35"><tspan x="2118.0" textLength="61.6" lengthAdjust="spacingAndGlyphs">M</tspan><tspan x="2182.5" textLength="34.5" lengthAdjust="spacingAndGlyphs">c</tspan><tspan x="2221.5" textLength="44.9" lengthAdjust="spacingAndGlyphs">p</tspan><tspan x="2266.3" textLength="52.4" lengthAdjust="spacingAndGlyphs">A</tspan></text>
<text y="2129.7" font-size="65.2" stroke-width="1.30"><tspan x="2208.5" textLength="34.9" lengthAdjust="spacingAndGlyphs">s</tspan><tspan x="2245.5" textLength="19.8" lengthAdjust="spacingAndGlyphs">l</tspan><tspan x="2267.0" textLength="30.8" lengthAdjust="spacingAndGlyphs">r</tspan><tspan x="2298.1" textLength="42.9" lengthAdjust="spacingAndGlyphs">0</tspan><tspan x="2342.9" textLength="40.7" lengthAdjust="spacingAndGlyphs">9</tspan><tspan x="2388.0" textLength="38.4" lengthAdjust="spacingAndGlyphs">4</tspan><tspan x="2431.4" textLength="39.7" lengthAdjust="spacingAndGlyphs">7</tspan></text>
</g>
<g class="tx" filter="url(#noLcd)">
<text y="244.8" font-size="158.6" stroke-width="3.17"><tspan x="41.4" textLength="105.2" lengthAdjust="spacingAndGlyphs">P</tspan><tspan x="150.9" textLength="75.0" lengthAdjust="spacingAndGlyphs">r</tspan><tspan x="227.5" textLength="48.1" lengthAdjust="spacingAndGlyphs">l</tspan><tspan x="281.3" textLength="102.0" lengthAdjust="spacingAndGlyphs">C</tspan></text>
<text y="113.1" font-size="71.8" stroke-width="1.44"><tspan x="474.2" textLength="41.3" lengthAdjust="spacingAndGlyphs">L</tspan><tspan x="516.6" textLength="45.5" lengthAdjust="spacingAndGlyphs">e</tspan><tspan x="564.6" textLength="42.5" lengthAdjust="spacingAndGlyphs">x</tspan><tspan x="607.5" textLength="55.8" lengthAdjust="spacingAndGlyphs">A</tspan></text>
<text y="255.9" font-size="87.4" stroke-width="1.75"><tspan x="677.0" textLength="52.4" lengthAdjust="spacingAndGlyphs">S</tspan><tspan x="735.8" textLength="46.8" lengthAdjust="spacingAndGlyphs">s</tspan><tspan x="785.7" textLength="58.3" lengthAdjust="spacingAndGlyphs">b</tspan></text>
<text y="496.8" font-size="61.4" stroke-width="1.23"><tspan x="622.6" textLength="43.2" lengthAdjust="spacingAndGlyphs">R</tspan><tspan x="666.9" textLength="38.9" lengthAdjust="spacingAndGlyphs">e</tspan><tspan x="707.8" textLength="31.4" lengthAdjust="spacingAndGlyphs">c</tspan><tspan x="741.4" textLength="47.7" lengthAdjust="spacingAndGlyphs">A</tspan></text>
<text y="538.5" font-size="120.1" stroke-width="2.40"><tspan x="165.8" textLength="77.3" lengthAdjust="spacingAndGlyphs">C</tspan><tspan x="250.4" textLength="71.8" lengthAdjust="spacingAndGlyphs">y</tspan><tspan x="328.0" textLength="64.3" lengthAdjust="spacingAndGlyphs">s</tspan><tspan x="400.8" textLength="72.0" lengthAdjust="spacingAndGlyphs">S</tspan></text>
<text y="752.5" font-size="68.4" stroke-width="1.37"><tspan x="23.3" textLength="53.2" lengthAdjust="spacingAndGlyphs">A</tspan><tspan x="77.3" textLength="36.6" lengthAdjust="spacingAndGlyphs">s</tspan><tspan x="116.3" textLength="45.6" lengthAdjust="spacingAndGlyphs">p</tspan><tspan x="166.2" textLength="41.0" lengthAdjust="spacingAndGlyphs">S</tspan></text>
<text y="909.0" font-size="142.3" stroke-width="2.85"><tspan x="274.8" textLength="107.8" lengthAdjust="spacingAndGlyphs">G</tspan><tspan x="389.0" textLength="76.8" lengthAdjust="spacingAndGlyphs">a</tspan><tspan x="479.9" textLength="62.8" lengthAdjust="spacingAndGlyphs">t</tspan><tspan x="543.3" textLength="110.6" lengthAdjust="spacingAndGlyphs">A</tspan></text>
<text y="1158.9" font-size="122.3" stroke-width="2.45"><tspan x="31.5" textLength="69.6" lengthAdjust="spacingAndGlyphs">F</tspan><tspan x="109.6" textLength="57.9" lengthAdjust="spacingAndGlyphs">r</tspan><tspan x="168.2" textLength="57.9" lengthAdjust="spacingAndGlyphs">r</tspan></text>
<text y="164.7" font-size="37.1" stroke-width="0.74"><tspan x="926.8" textLength="19.8" lengthAdjust="spacingAndGlyphs">s</tspan><tspan x="948.2" textLength="19.8" lengthAdjust="spacingAndGlyphs">s</tspan><tspan x="969.2" textLength="11.2" lengthAdjust="spacingAndGlyphs">l</tspan><tspan x="983.0" textLength="21.2" lengthAdjust="spacingAndGlyphs">5</tspan><tspan x="1008.1" textLength="21.2" lengthAdjust="spacingAndGlyphs">1</tspan><tspan x="1033.1" textLength="21.2" lengthAdjust="spacingAndGlyphs">1</tspan><tspan x="1058.0" textLength="21.3" lengthAdjust="spacingAndGlyphs">3</tspan></text>
<text y="142.2" font-size="78.2" stroke-width="1.56"><tspan x="1143.1" textLength="41.8" lengthAdjust="spacingAndGlyphs">s</tspan><tspan x="1187.5" textLength="23.7" lengthAdjust="spacingAndGlyphs">l</tspan><tspan x="1213.2" textLength="37.0" lengthAdjust="spacingAndGlyphs">r</tspan><tspan x="1254.0" textLength="44.8" lengthAdjust="spacingAndGlyphs">1</tspan><tspan x="1304.3" textLength="48.8" lengthAdjust="spacingAndGlyphs">9</tspan><tspan x="1359.4" textLength="44.7" lengthAdjust="spacingAndGlyphs">2</tspan><tspan x="1411.2" textLength="46.1" lengthAdjust="spacingAndGlyphs">4</tspan></text>
<text y="139.2" font-size="62.8" stroke-width="1.26"><tspan x="1732.5" textLength="33.6" lengthAdjust="spacingAndGlyphs">s</tspan><tspan x="1768.1" textLength="19.0" lengthAdjust="spacingAndGlyphs">l</tspan><tspan x="1788.7" textLength="29.7" lengthAdjust="spacingAndGlyphs">r</tspan><tspan x="1818.7" textLength="41.3" lengthAdjust="spacingAndGlyphs">0</tspan><tspan x="1862.3" textLength="38.2" lengthAdjust="spacingAndGlyphs">7</tspan><tspan x="1903.5" textLength="41.3" lengthAdjust="spacingAndGlyphs">0</tspan><tspan x="1947.5" textLength="37.9" lengthAdjust="spacingAndGlyphs">8</tspan></text>
<text y="184.4" font-size="33.0" stroke-width="0.66"><tspan x="2353.6" textLength="17.7" lengthAdjust="spacingAndGlyphs">s</tspan><tspan x="2372.3" textLength="10.0" lengthAdjust="spacingAndGlyphs">l</tspan><tspan x="2383.2" textLength="15.6" lengthAdjust="spacingAndGlyphs">r</tspan><tspan x="2399.0" textLength="21.7" lengthAdjust="spacingAndGlyphs">0</tspan><tspan x="2421.9" textLength="20.6" lengthAdjust="spacingAndGlyphs">6</tspan><tspan x="2445.1" textLength="18.9" lengthAdjust="spacingAndGlyphs">5</tspan><tspan x="2465.9" textLength="21.7" lengthAdjust="spacingAndGlyphs">0</tspan></text>
<text y="359.6" font-size="62.7" stroke-width="1.25"><tspan x="1470.7" textLength="33.6" lengthAdjust="spacingAndGlyphs">s</tspan><tspan x="1506.3" textLength="19.0" lengthAdjust="spacingAndGlyphs">l</tspan><tspan x="1526.9" textLength="29.7" lengthAdjust="spacingAndGlyphs">r</tspan><tspan x="1556.8" textLength="41.3" lengthAdjust="spacingAndGlyphs">0</tspan><tspan x="1600.3" textLength="38.2" lengthAdjust="spacingAndGlyphs">7</tspan><tspan x="1644.2" textLength="36.0" lengthAdjust="spacingAndGlyphs">3</tspan><tspan x="1686.7" textLength="35.9" lengthAdjust="spacingAndGlyphs">1</tspan></text>
<text y="441.9" font-size="90.8" stroke-width="1.82"><tspan x="1998.8" textLength="48.6" lengthAdjust="spacingAndGlyphs">s</tspan><tspan x="2050.3" textLength="27.5" lengthAdjust="spacingAndGlyphs">l</tspan><tspan x="2080.2" textLength="42.9" lengthAdjust="spacingAndGlyphs">r</tspan><tspan x="2123.5" textLength="59.7" lengthAdjust="spacingAndGlyphs">0</tspan><tspan x="2184.8" textLength="59.7" lengthAdjust="spacingAndGlyphs">0</tspan><tspan x="2248.4" textLength="54.8" lengthAdjust="spacingAndGlyphs">8</tspan><tspan x="2311.3" textLength="51.9" lengthAdjust="spacingAndGlyphs">2</tspan></text>
<text y="473.7" font-size="93.6" stroke-width="1.87"><tspan x="973.7" textLength="50.1" lengthAdjust="spacingAndGlyphs">s</tspan><tspan x="1026.7" textLength="28.4" lengthAdjust="spacingAndGlyphs">l</tspan><tspan x="1057.5" textLength="44.3" lengthAdjust="spacingAndGlyphs">r</tspan><tspan x="1106.4" textLength="53.6" lengthAdjust="spacingAndGlyphs">1</tspan><tspan x="1166.5" textLength="58.4" lengthAdjust="spacingAndGlyphs">9</tspan><tspan x="1231.3" textLength="55.2" lengthAdjust="spacingAndGlyphs">4</tspan><tspan x="1295.8" textLength="53.5" lengthAdjust="spacingAndGlyphs">2</tspan></text>
<text y="552.2" font-size="53.9" stroke-width="1.08"><tspan x="1592.7" textLength="28.9" lengthAdjust="spacingAndGlyphs">s</tspan><tspan x="1623.3" textLength="16.4" lengthAdjust="spacingAndGlyphs">l</tspan><tspan x="1641.0" textLength="25.5" lengthAdjust="spacingAndGlyphs">r</tspan><tspan x="1666.8" textLength="35.5" lengthAdjust="spacingAndGlyphs">0</tspan><tspan x="1704.2" textLength="32.8" lengthAdjust="spacingAndGlyphs">7</tspan><tspan x="1741.9" textLength="30.8" lengthAdjust="spacingAndGlyphs">2</tspan><tspan x="1776.8" textLength="33.7" lengthAdjust="spacingAndGlyphs">9</tspan></text>
<text y="754.4" font-size="50.4" stroke-width="1.01"><tspan x="774.0" textLength="27.0" lengthAdjust="spacingAndGlyphs">s</tspan><tspan x="802.6" textLength="15.3" lengthAdjust="spacingAndGlyphs">l</tspan><tspan x="819.2" textLength="23.9" lengthAdjust="spacingAndGlyphs">r</tspan><tspan x="845.5" textLength="28.9" lengthAdjust="spacingAndGlyphs">1</tspan><tspan x="878.3" textLength="31.5" lengthAdjust="spacingAndGlyphs">6</tspan><tspan x="913.5" textLength="28.8" lengthAdjust="spacingAndGlyphs">2</tspan><tspan x="946.9" textLength="29.7" lengthAdjust="spacingAndGlyphs">4</tspan></text>
<text y="805.5" font-size="69.8" stroke-width="1.40"><tspan x="1331.3" textLength="37.4" lengthAdjust="spacingAndGlyphs">s</tspan><tspan x="1370.9" textLength="21.2" lengthAdjust="spacingAndGlyphs">l</tspan><tspan x="1393.9" textLength="33.0" lengthAdjust="spacingAndGlyphs">r</tspan><tspan x="1427.2" textLength="45.9" lengthAdjust="spacingAndGlyphs">0</tspan><tspan x="1477.3" textLength="39.9" lengthAdjust="spacingAndGlyphs">2</tspan><tspan x="1521.5" textLength="45.9" lengthAdjust="spacingAndGlyphs">0</tspan><tspan x="1570.5" textLength="42.2" lengthAdjust="spacingAndGlyphs">8</tspan></text>
<text y="773.5" font-size="79.3" stroke-width="1.59"><tspan x="1831.1" textLength="42.5" lengthAdjust="spacingAndGlyphs">s</tspan><tspan x="1876.1" textLength="24.1" lengthAdjust="spacingAndGlyphs">l</tspan><tspan x="1902.5" textLength="24.1" lengthAdjust="spacingAndGlyphs">l</tspan><tspan x="1932.0" textLength="45.5" lengthAdjust="spacingAndGlyphs">1</tspan><tspan x="1984.3" textLength="46.7" lengthAdjust="spacingAndGlyphs">4</tspan><tspan x="2039.0" textLength="45.3" lengthAdjust="spacingAndGlyphs">2</tspan><tspan x="2092.6" textLength="45.6" lengthAdjust="spacingAndGlyphs">3</tspan></text>
<text y="943.3" font-size="71.6" stroke-width="1.43"><tspan x="2177.2" textLength="38.3" lengthAdjust="spacingAndGlyphs">s</tspan><tspan x="2217.8" textLength="21.7" lengthAdjust="spacingAndGlyphs">l</tspan><tspan x="2241.3" textLength="33.9" lengthAdjust="spacingAndGlyphs">r</tspan><tspan x="2275.5" textLength="47.1" lengthAdjust="spacingAndGlyphs">0</tspan><tspan x="2323.8" textLength="47.1" lengthAdjust="spacingAndGlyphs">0</tspan><tspan x="2373.6" textLength="44.7" lengthAdjust="spacingAndGlyphs">6</tspan><tspan x="2421.9" textLength="43.6" lengthAdjust="spacingAndGlyphs">7</tspan></text>
<text y="1014.7" font-size="95.0" stroke-width="1.90"><tspan x="901.2" textLength="50.9" lengthAdjust="spacingAndGlyphs">s</tspan><tspan x="955.1" textLength="28.8" lengthAdjust="spacingAndGlyphs">l</tspan><tspan x="986.4" textLength="45.0" lengthAdjust="spacingAndGlyphs">r</tspan><tspan x="1036.0" textLength="54.5" lengthAdjust="spacingAndGlyphs">1</tspan><tspan x="1099.9" textLength="54.3" lengthAdjust="spacingAndGlyphs">2</tspan><tspan x="1164.2" textLength="54.3" lengthAdjust="spacingAndGlyphs">2</tspan><tspan x="1226.2" textLength="57.8" lengthAdjust="spacingAndGlyphs">7</tspan></text>
<text y="1051.5" font-size="80.0" stroke-width="1.60"><tspan x="1651.4" textLength="42.8" lengthAdjust="spacingAndGlyphs">s</tspan><tspan x="1696.7" textLength="24.2" lengthAdjust="spacingAndGlyphs">l</tspan><tspan x="1723.3" textLength="24.2" lengthAdjust="spacingAndGlyphs">l</tspan><tspan x="1749.5" textLength="52.6" lengthAdjust="spacingAndGlyphs">0</tspan><tspan x="1807.1" textLength="45.8" lengthAdjust="spacingAndGlyphs">1</tspan><tspan x="1857.6" textLength="52.6" lengthAdjust="spacingAndGlyphs">0</tspan><tspan x="1914.9" textLength="45.7" lengthAdjust="spacingAndGlyphs">2</tspan></text>
<text y="1160.7" font-size="53.6" stroke-width="1.07"><tspan x="1365.2" textLength="28.7" lengthAdjust="spacingAndGlyphs">s</tspan><tspan x="1395.6" textLength="16.3" lengthAdjust="spacingAndGlyphs">l</tspan><tspan x="1413.5" textLength="16.3" lengthAdjust="spacingAndGlyphs">l</tspan><tspan x="1431.0" textLength="35.3" lengthAdjust="spacingAndGlyphs">0</tspan><tspan x="1469.6" textLength="30.7" lengthAdjust="spacingAndGlyphs">5</tspan><tspan x="1505.8" textLength="30.7" lengthAdjust="spacingAndGlyphs">5</tspan><tspan x="1542.0" textLength="30.8" lengthAdjust="spacingAndGlyphs">3</tspan></text>
<text y="1205.6" font-size="42.9" stroke-width="0.86"><tspan x="835.0" textLength="23.0" lengthAdjust="spacingAndGlyphs">s</tspan><tspan x="859.3" textLength="13.0" lengthAdjust="spacingAndGlyphs">l</tspan><tspan x="873.5" textLength="20.3" lengthAdjust="spacingAndGlyphs">r</tspan><tspan x="893.9" textLength="28.3" lengthAdjust="spacingAndGlyphs">0</tspan><tspan x="924.0" textLength="25.9" lengthAdjust="spacingAndGlyphs">8</tspan><tspan x="953.8" textLength="24.7" lengthAdjust="spacingAndGlyphs">3</tspan><tspan x="982.9" textLength="24.6" lengthAdjust="spacingAndGlyphs">5</tspan></text>
<text y="1263.0" font-size="77.0" stroke-width="1.54"><tspan x="1639.4" textLength="41.2" lengthAdjust="spacingAndGlyphs">s</tspan><tspan x="1683.0" textLength="23.4" lengthAdjust="spacingAndGlyphs">l</tspan><tspan x="1708.7" textLength="23.4" lengthAdjust="spacingAndGlyphs">l</tspan><tspan x="1733.8" textLength="50.7" lengthAdjust="spacingAndGlyphs">0</tspan><tspan x="1789.1" textLength="44.2" lengthAdjust="spacingAndGlyphs">3</tspan><tspan x="1838.8" textLength="48.0" lengthAdjust="spacingAndGlyphs">9</tspan><tspan x="1893.3" textLength="44.2" lengthAdjust="spacingAndGlyphs">5</tspan></text>
<text y="1226.7" font-size="79.9" stroke-width="1.60"><tspan x="2094.8" textLength="42.7" lengthAdjust="spacingAndGlyphs">s</tspan><tspan x="2140.1" textLength="24.2" lengthAdjust="spacingAndGlyphs">l</tspan><tspan x="2166.7" textLength="24.2" lengthAdjust="spacingAndGlyphs">l</tspan><tspan x="2196.4" textLength="45.8" lengthAdjust="spacingAndGlyphs">1</tspan><tspan x="2248.3" textLength="49.9" lengthAdjust="spacingAndGlyphs">6</tspan><tspan x="2302.2" textLength="48.6" lengthAdjust="spacingAndGlyphs">7</tspan><tspan x="2355.7" textLength="49.8" lengthAdjust="spacingAndGlyphs">9</tspan></text>
<text y="1391.7" font-size="78.8" stroke-width="1.58"><tspan x="1118.6" textLength="42.2" lengthAdjust="spacingAndGlyphs">s</tspan><tspan x="1163.3" textLength="23.9" lengthAdjust="spacingAndGlyphs">l</tspan><tspan x="1189.6" textLength="23.9" lengthAdjust="spacingAndGlyphs">l</tspan><tspan x="1218.9" textLength="45.2" lengthAdjust="spacingAndGlyphs">1</tspan><tspan x="1272.1" textLength="45.2" lengthAdjust="spacingAndGlyphs">5</tspan><tspan x="1323.9" textLength="47.6" lengthAdjust="spacingAndGlyphs">8</tspan><tspan x="1378.7" textLength="45.2" lengthAdjust="spacingAndGlyphs">1</tspan></text>
<text y="1505.5" font-size="84.5" stroke-width="1.69"><tspan x="1760.5" textLength="45.2" lengthAdjust="spacingAndGlyphs">s</tspan><tspan x="1808.4" textLength="25.6" lengthAdjust="spacingAndGlyphs">l</tspan><tspan x="1836.2" textLength="40.0" lengthAdjust="spacingAndGlyphs">r</tspan><tspan x="1880.3" textLength="48.4" lengthAdjust="spacingAndGlyphs">1</tspan><tspan x="1933.5" textLength="55.6" lengthAdjust="spacingAndGlyphs">0</tspan><tspan x="1994.1" textLength="48.5" lengthAdjust="spacingAndGlyphs">3</tspan><tspan x="2050.1" textLength="49.8" lengthAdjust="spacingAndGlyphs">4</tspan></text>
<text y="1629.2" font-size="69.9" stroke-width="1.40"><tspan x="1365.8" textLength="37.4" lengthAdjust="spacingAndGlyphs">s</tspan><tspan x="1405.4" textLength="21.2" lengthAdjust="spacingAndGlyphs">l</tspan><tspan x="1428.4" textLength="33.0" lengthAdjust="spacingAndGlyphs">r</tspan><tspan x="1464.9" textLength="40.0" lengthAdjust="spacingAndGlyphs">1</tspan><tspan x="1510.2" textLength="42.5" lengthAdjust="spacingAndGlyphs">7</tspan><tspan x="1557.5" textLength="43.7" lengthAdjust="spacingAndGlyphs">6</tspan><tspan x="1606.3" textLength="40.1" lengthAdjust="spacingAndGlyphs">3</tspan></text>
<text y="1591.8" font-size="69.7" stroke-width="1.39"><tspan x="2186.3" textLength="37.3" lengthAdjust="spacingAndGlyphs">s</tspan><tspan x="2225.8" textLength="21.1" lengthAdjust="spacingAndGlyphs">l</tspan><tspan x="2248.8" textLength="33.0" lengthAdjust="spacingAndGlyphs">r</tspan><tspan x="2285.1" textLength="39.9" lengthAdjust="spacingAndGlyphs">1</tspan><tspan x="2331.0" textLength="41.1" lengthAdjust="spacingAndGlyphs">4</tspan><tspan x="2376.2" textLength="45.8" lengthAdjust="spacingAndGlyphs">0</tspan><tspan x="2424.0" textLength="43.5" lengthAdjust="spacingAndGlyphs">9</tspan></text>
<text y="1878.9" font-size="118.6" stroke-width="2.37"><tspan x="1679.1" textLength="63.4" lengthAdjust="spacingAndGlyphs">s</tspan><tspan x="1746.3" textLength="36.0" lengthAdjust="spacingAndGlyphs">l</tspan><tspan x="1785.3" textLength="56.1" lengthAdjust="spacingAndGlyphs">r</tspan><tspan x="1846.8" textLength="67.7" lengthAdjust="spacingAndGlyphs">2</tspan><tspan x="1922.0" textLength="78.0" lengthAdjust="spacingAndGlyphs">0</tspan><tspan x="2007.0" textLength="68.1" lengthAdjust="spacingAndGlyphs">3</tspan><tspan x="2087.2" textLength="67.7" lengthAdjust="spacingAndGlyphs">2</tspan></text>
<text y="1285.6" font-size="116.4" stroke-width="2.33"><tspan x="402.1" textLength="90.5" lengthAdjust="spacingAndGlyphs">A</tspan><tspan x="492.3" textLength="55.0" lengthAdjust="spacingAndGlyphs">r</tspan><tspan x="548.0" textLength="75.2" lengthAdjust="spacingAndGlyphs">o</tspan><tspan x="629.2" textLength="66.8" lengthAdjust="spacingAndGlyphs">E</tspan></text>
<text y="1470.9" font-size="127.8" stroke-width="2.56"><tspan x="30.7" textLength="97.3" lengthAdjust="spacingAndGlyphs">D</tspan><tspan x="131.2" textLength="85.2" lengthAdjust="spacingAndGlyphs">d</tspan><tspan x="220.8" textLength="38.8" lengthAdjust="spacingAndGlyphs">l</tspan></text>
<text y="1631.5" font-size="98.7" stroke-width="1.97"><tspan x="301.3" textLength="74.5" lengthAdjust="spacingAndGlyphs">H</tspan><tspan x="380.2" textLength="29.9" lengthAdjust="spacingAndGlyphs">i</tspan><tspan x="414.1" textLength="52.8" lengthAdjust="spacingAndGlyphs">s</tspan><tspan x="467.4" textLength="76.7" lengthAdjust="spacingAndGlyphs">A</tspan></text>
<text y="1433.3" font-size="86.7" stroke-width="1.73"><tspan x="738.7" textLength="67.4" lengthAdjust="spacingAndGlyphs">A</tspan><tspan x="805.9" textLength="41.0" lengthAdjust="spacingAndGlyphs">r</tspan><tspan x="847.2" textLength="57.9" lengthAdjust="spacingAndGlyphs">g</tspan><tspan x="902.0" textLength="31.2" lengthAdjust="spacingAndGlyphs">J</tspan></text>
<text y="1687.8" font-size="116.0" stroke-width="2.32"><tspan x="624.3" textLength="36.4" lengthAdjust="spacingAndGlyphs">I</tspan><tspan x="665.3" textLength="35.2" lengthAdjust="spacingAndGlyphs">l</tspan><tspan x="704.5" textLength="68.8" lengthAdjust="spacingAndGlyphs">v</tspan><tspan x="778.9" textLength="87.6" lengthAdjust="spacingAndGlyphs">H</tspan></text>
<text y="2024.2" font-size="166.3" stroke-width="3.33"><tspan x="312.4" textLength="52.2" lengthAdjust="spacingAndGlyphs">I</tspan><tspan x="371.1" textLength="50.4" lengthAdjust="spacingAndGlyphs">l</tspan><tspan x="427.4" textLength="98.6" lengthAdjust="spacingAndGlyphs">v</tspan><tspan x="535.5" textLength="110.8" lengthAdjust="spacingAndGlyphs">B</tspan></text>
<text y="2154.6" font-size="92.2" stroke-width="1.84"><tspan x="28.1" textLength="69.9" lengthAdjust="spacingAndGlyphs">G</tspan><tspan x="101.4" textLength="28.0" lengthAdjust="spacingAndGlyphs">l</tspan><tspan x="131.3" textLength="40.7" lengthAdjust="spacingAndGlyphs">t</tspan><tspan x="176.2" textLength="70.2" lengthAdjust="spacingAndGlyphs">D</tspan></text>
<text y="2338.8" font-size="95.9" stroke-width="1.92"><tspan x="343.7" textLength="73.0" lengthAdjust="spacingAndGlyphs">D</tspan><tspan x="420.5" textLength="51.7" lengthAdjust="spacingAndGlyphs">a</tspan><tspan x="482.9" textLength="63.9" lengthAdjust="spacingAndGlyphs">p</tspan><tspan x="546.5" textLength="74.5" lengthAdjust="spacingAndGlyphs">A</tspan></text>
<text y="2477.4" font-size="83.6" stroke-width="1.67"><tspan x="100.9" textLength="55.5" lengthAdjust="spacingAndGlyphs">P</tspan><tspan x="158.3" textLength="53.0" lengthAdjust="spacingAndGlyphs">e</tspan><tspan x="213.3" textLength="36.9" lengthAdjust="spacingAndGlyphs">t</tspan><tspan x="250.5" textLength="65.0" lengthAdjust="spacingAndGlyphs">A</tspan></text>
<text y="1860.5" font-size="80.8" stroke-width="1.62"><tspan x="890.1" textLength="56.9" lengthAdjust="spacingAndGlyphs">R</tspan><tspan x="949.4" textLength="53.9" lengthAdjust="spacingAndGlyphs">p</tspan><tspan x="1005.3" textLength="24.5" lengthAdjust="spacingAndGlyphs">i</tspan><tspan x="1030.0" textLength="62.8" lengthAdjust="spacingAndGlyphs">A</tspan></text>
<text y="1950.9" font-size="136.5" stroke-width="2.73"><tspan x="1150.7" textLength="106.1" lengthAdjust="spacingAndGlyphs">A</tspan><tspan x="1257.1" textLength="69.9" lengthAdjust="spacingAndGlyphs">c</tspan><tspan x="1337.2" textLength="73.1" lengthAdjust="spacingAndGlyphs">s</tspan></text>
<text y="2127.2" font-size="59.4" stroke-width="1.19"><tspan x="1410.9" textLength="39.4" lengthAdjust="spacingAndGlyphs">P</tspan><tspan x="1452.3" textLength="38.9" lengthAdjust="spacingAndGlyphs">h</tspan><tspan x="1492.9" textLength="39.6" lengthAdjust="spacingAndGlyphs">d</tspan><tspan x="1535.3" textLength="45.2" lengthAdjust="spacingAndGlyphs">D</tspan></text>
<text y="2309.7" font-size="76.3" stroke-width="1.53"><tspan x="862.7" textLength="50.6" lengthAdjust="spacingAndGlyphs">P</tspan><tspan x="916.0" textLength="49.6" lengthAdjust="spacingAndGlyphs">u</tspan><tspan x="968.1" textLength="36.1" lengthAdjust="spacingAndGlyphs">r</tspan><tspan x="1004.0" textLength="50.0" lengthAdjust="spacingAndGlyphs">T</tspan></text>
<text y="2293.7" font-size="60.0" stroke-width="1.20"><tspan x="1112.9" textLength="45.4" lengthAdjust="spacingAndGlyphs">G</tspan><tspan x="1161.0" textLength="32.4" lengthAdjust="spacingAndGlyphs">a</tspan><tspan x="1200.1" textLength="40.0" lengthAdjust="spacingAndGlyphs">b</tspan><tspan x="1242.3" textLength="45.6" lengthAdjust="spacingAndGlyphs">D</tspan></text>
<text y="2410.2" font-size="54.8" stroke-width="1.10"><tspan x="676.0" textLength="38.6" lengthAdjust="spacingAndGlyphs">R</tspan><tspan x="716.2" textLength="36.5" lengthAdjust="spacingAndGlyphs">b</tspan><tspan x="754.1" textLength="28.1" lengthAdjust="spacingAndGlyphs">c</tspan><tspan x="787.7" textLength="32.9" lengthAdjust="spacingAndGlyphs">S</tspan></text>
<text y="2394.3" font-size="76.3" stroke-width="1.53"><tspan x="1329.4" textLength="57.6" lengthAdjust="spacingAndGlyphs">N</tspan><tspan x="1391.0" textLength="41.1" lengthAdjust="spacingAndGlyphs">a</tspan><tspan x="1439.7" textLength="33.7" lengthAdjust="spacingAndGlyphs">t</tspan><tspan x="1477.4" textLength="50.8" lengthAdjust="spacingAndGlyphs">B</tspan></text>
<text y="2357.2" font-size="156.2" stroke-width="3.12"><tspan x="1693.6" textLength="103.6" lengthAdjust="spacingAndGlyphs">P</tspan><tspan x="1802.1" textLength="47.4" lengthAdjust="spacingAndGlyphs">i</tspan><tspan x="1854.1" textLength="47.4" lengthAdjust="spacingAndGlyphs">l</tspan><tspan x="1904.1" textLength="102.5" lengthAdjust="spacingAndGlyphs">T</tspan></text>
<text y="2364.4" font-size="67.4" stroke-width="1.35"><tspan x="2117.0" textLength="61.6" lengthAdjust="spacingAndGlyphs">M</tspan><tspan x="2181.5" textLength="34.5" lengthAdjust="spacingAndGlyphs">c</tspan><tspan x="2220.5" textLength="44.9" lengthAdjust="spacingAndGlyphs">p</tspan><tspan x="2265.3" textLength="52.4" lengthAdjust="spacingAndGlyphs">A</tspan></text>
<text y="2128.7" font-size="65.2" stroke-width="1.30"><tspan x="2207.5" textLength="34.9" lengthAdjust="spacingAndGlyphs">s</tspan><tspan x="2244.5" textLength="19.8" lengthAdjust="spacingAndGlyphs">l</tspan><tspan x="2266.0" textLength="30.8" lengthAdjust="spacingAndGlyphs">r</tspan><tspan x="2297.1" textLength="42.9" lengthAdjust="spacingAndGlyphs">0</tspan><tspan x="2341.9" textLength="40.7" lengthAdjust="spacingAndGlyphs">9</tspan><tspan x="2387.0" textLength="38.4" lengthAdjust="spacingAndGlyphs">4</tspan><tspan x="2430.4" textLength="39.7" lengthAdjust="spacingAndGlyphs">7</tspan></text>
</g>
</svg>
</body></html>
